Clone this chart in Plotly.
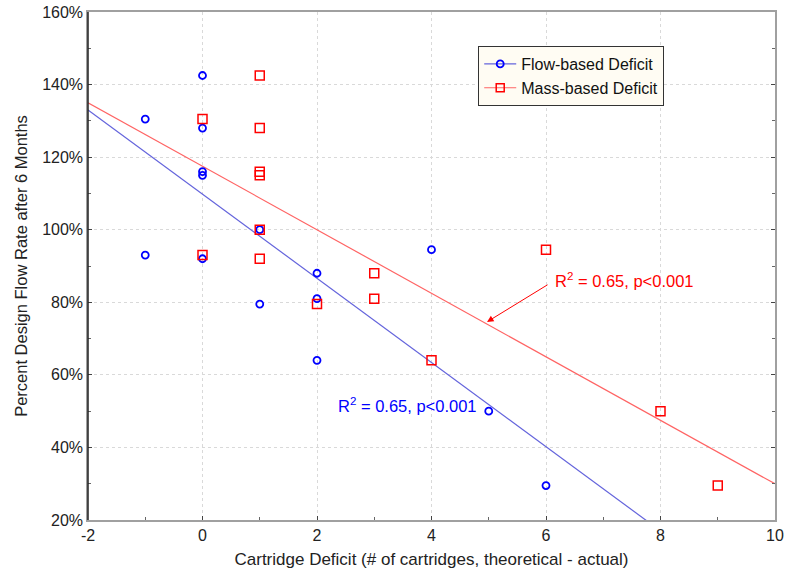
import numpy as np
import plotly.graph_objects as go

# Cartridge deficit (theoretical - actual) and flow rate after 6 months (% of design)
flow_deficit = [-1, -1, 0, 0, 0, 0, 0, 1, 1, 2, 2, 2, 4, 5, 6]
mass_deficit = [0, 0, 1, 1, 1, 1, 1, 1, 2, 3, 3, 4, 6, 8, 9]
flow_pct_flowbased = [130.5, 93, 142.5, 128, 116, 115, 92, 100, 79.5, 88, 81, 64, 94.5, 50, 29.5]
flow_pct_massbased = [130.5, 93, 142.5, 128, 116, 115, 100, 92, 79.5, 88, 81, 64, 94.5, 50, 29.5]

x_ticks = [-2, 0, 2, 4, 6, 8, 10]
y_ticks = [20, 40, 60, 80, 100, 120, 140, 160]

BLUE = "#0000ff"
RED = "#ff0000"
BLUE_LINE = "#6464dc"
RED_LINE = "#ff6464"
FONT = "Liberation Sans, Arial, sans-serif"

# least-squares fits
b_fit = np.polyfit(flow_deficit, flow_pct_flowbased, 1)
r_fit = np.polyfit(mass_deficit, flow_pct_massbased, 1)
x_line = np.array([-2.0, 10.0])

fig = go.Figure()

fig.add_trace(go.Scatter(x=x_line, y=np.polyval(b_fit, x_line), mode="lines",
                         line=dict(color=BLUE_LINE, width=1.2), showlegend=False,
                         hoverinfo="skip"))
fig.add_trace(go.Scatter(x=x_line, y=np.polyval(r_fit, x_line), mode="lines",
                         line=dict(color=RED_LINE, width=1.2), showlegend=False,
                         hoverinfo="skip"))

fig.add_trace(go.Scatter(x=flow_deficit, y=flow_pct_flowbased, mode="markers",
                         marker=dict(symbol="circle-open", size=7, color=BLUE,
                                     line=dict(width=1.8, color=BLUE)),
                         showlegend=False))
fig.add_trace(go.Scatter(x=mass_deficit, y=flow_pct_massbased, mode="markers",
                         marker=dict(symbol="square-open", size=9, color=RED,
                                     line=dict(width=1.5, color=RED)),
                         showlegend=False))

# legend entries (line + marker symbol)
fig.add_trace(go.Scatter(x=[None], y=[None], mode="lines+markers", name="Flow-based Deficit",
                         line=dict(color=BLUE_LINE, width=1.2),
                         marker=dict(symbol="circle-open", size=7, color=BLUE,
                                     line=dict(width=1.8, color=BLUE))))
fig.add_trace(go.Scatter(x=[None], y=[None], mode="lines+markers", name="Mass-based Deficit",
                         line=dict(color=RED_LINE, width=1.2),
                         marker=dict(symbol="square-open", size=8, color=RED,
                                     line=dict(width=1.5, color=RED))))

# regression statistics labels
fig.add_annotation(x=6.12, y=86.2, xref="x", yref="y", text="R<sup>2</sup> = 0.65, p&lt;0.001",
                   showarrow=False, xanchor="left", yanchor="middle",
                   font=dict(family=FONT, size=16.5, color=RED))
fig.add_annotation(x=4.97, y=74.6, xref="x", yref="y", text=" ",
                   showarrow=True, arrowhead=2, arrowsize=1.3, arrowwidth=1,
                   arrowcolor=RED, ax=62, ay=-38, font=dict(size=1))
fig.add_annotation(x=2.33, y=51.6, xref="x", yref="y", text="R<sup>2</sup> = 0.65, p&lt;0.001",
                   showarrow=False, xanchor="left", yanchor="middle",
                   font=dict(family=FONT, size=16.5, color=BLUE))

# dark left axis line
fig.add_shape(type="line", xref="paper", yref="paper", x0=0, x1=0, y0=0, y1=1,
              line=dict(color="#222222", width=1.5))

fig.update_layout(
    width=790, height=579,
    margin=dict(l=88, r=15, t=12, b=59),
    paper_bgcolor="white", plot_bgcolor="white",
    font=dict(family=FONT, size=16, color="#222222"),
    showlegend=True,
    legend=dict(x=0.568, y=0.933, xanchor="left", yanchor="top",
                bgcolor="#fffcf3", bordercolor="#333333", borderwidth=1,
                font=dict(family=FONT, size=16, color="#111111"),
                itemwidth=32, tracegroupgap=0),
    xaxis=dict(range=[-2, 10], tickvals=x_ticks, ticktext=[str(v) for v in x_ticks],
               automargin=False,
               showgrid=True, gridcolor="#d9d9d9", griddash="dot", gridwidth=1,
               zeroline=False, showline=True, linecolor="#a0a0a0", linewidth=1.5,
               mirror=True, ticks="inside", ticklen=4, tickcolor="#444444",
               minor=dict(dtick=1, ticks="inside", ticklen=3, tickcolor="#666666", showgrid=False),
               title=dict(text="Cartridge Deficit (# of cartridges, theoretical - actual)",
                          font=dict(family=FONT, size=17), standoff=10),
               tickfont=dict(family=FONT, size=16)),
    yaxis=dict(range=[20, 160], tickvals=y_ticks, ticktext=[f"{v}%" for v in y_ticks],
               automargin=False,
               showgrid=True, gridcolor="#d9d9d9", griddash="dot", gridwidth=1,
               zeroline=False, showline=True, linecolor="#a0a0a0", linewidth=1.5,
               mirror="ticks", ticks="inside", ticklen=4, tickcolor="#444444",
               minor=dict(dtick=10, ticks="inside", ticklen=3, tickcolor="#666666", showgrid=False),
               title=dict(text="Percent Design Flow Rate after 6 Months",
                          font=dict(family=FONT, size=16.5), standoff=10),
               tickfont=dict(family=FONT, size=16)),
)

fig.write_html("out.html")
